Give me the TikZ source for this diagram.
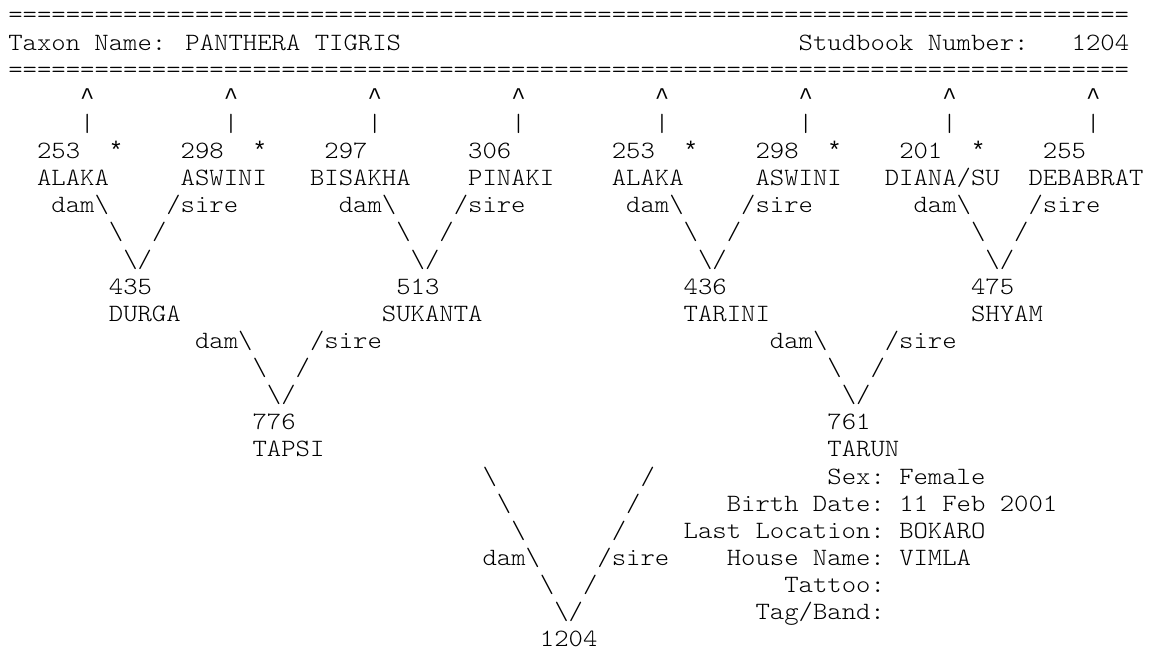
\documentclass[tikz,border=0pt]{standalone}
\usepackage{fontspec}
\newfontfamily\asciimono[FakeStretch=1.1]{Latin Modern Mono Light}
\newfontfamily\symmono{Liberation Mono}
\newcommand\pcw{14.37}
\newcommand\prh{27.13}
\newcommand\pxo{8.3}
\newcommand\pyo{22.9}
\newcommand\bs{\textbackslash}
\newcommand\pedtok[4]{\node[tok] (#1) at ({\pxo+(#2)*\pcw},{-(\pyo+(#3)*\prh)}) {#4};}
\newcommand\pedsym[4]{\node[symtok] (#1) at ({\pxo+(#2)*\pcw},{-(\pyo+(#3)*\prh)}) {#4};}
\begin{document}
\begin{tikzpicture}[x=1pt,y=1pt,
  tok/.style={anchor=base west,inner sep=0pt,outer sep=0pt,
    font=\asciimono\fontsize{24.88}{27}\selectfont,text=black},
  symtok/.style={tok,font=\symmono\fontsize{23.95}{27}\selectfont}]
\fill[white] (0,0) rectangle (1151,-651);
\useasboundingbox (0,0) rectangle (1151,-651);
% header
\pedtok{eqtop}{0}{0}{\foreach \i in {1,...,78}{=}}
\pedtok{taxon}{0}{1}{Taxon Name: PANTHERA TIGRIS}
\pedtok{sbl}{55}{1}{Studbook Number:}
\pedtok{sbn}{74}{1}{1204}
\pedtok{eqbot}{0}{2}{\foreach \i in {1,...,78}{=}}
% great-grandparents
\foreach \k in {0,...,7}{
  \pedsym{car\k}{5+10*\k}{3}{\textasciicircum}
  \pedtok{bar\k}{5+10*\k}{4}{|}
}
\foreach \c/\t [count=\i] in {2/253,12/298,22/297,32/306,42/253,52/298,62/201,72/255}{
  \pedtok{num\i}{\c}{5}{\t}
}
\foreach \c [count=\i] in {7,17,47,57,67}{
  \pedsym{star\i}{\c}{5}{*}
}
\pedtok{nmA}{2}{6}{ALAKA}
\pedtok{nmB}{12}{6}{ASWINI}
\pedtok{nmC}{21}{6}{BISAKHA}
\pedtok{nmD}{32}{6}{PINAKI}
\pedtok{nmE}{42}{6}{ALAKA}
\pedtok{nmF}{52}{6}{ASWINI}
\pedtok{nmG}{61}{6}{DIANA/SU}
\pedtok{nmH}{71}{6}{DEBABRAT}
% level 1 connectors
\foreach \b [count=\i] in {0,20,40,60}{
  \pedtok{damA\i}{\b+3}{7}{dam\bs}
  \pedtok{sireA\i}{\b+11}{7}{/sire}
  \pedtok{lbA\i}{\b+7}{8}{\bs}
  \pedtok{rsA\i}{\b+10}{8}{/}
  \pedtok{vA\i}{\b+8}{9}{\bs/}
}
\pedtok{g435}{7}{10}{435}
\pedtok{g513}{27}{10}{513}
\pedtok{g436}{47}{10}{436}
\pedtok{g475}{67}{10}{475}
\pedtok{gDURGA}{7}{11}{DURGA}
\pedtok{gSUKANTA}{26}{11}{SUKANTA}
\pedtok{gTARINI}{47}{11}{TARINI}
\pedtok{gSHYAM}{67}{11}{SHYAM}
% level 2 connectors
\foreach \b [count=\i] in {10,50}{
  \pedtok{damB\i}{\b+3}{12}{dam\bs}
  \pedtok{sireB\i}{\b+11}{12}{/sire}
  \pedtok{lbB\i}{\b+7}{13}{\bs}
  \pedtok{rsB\i}{\b+10}{13}{/}
  \pedtok{vB\i}{\b+8}{14}{\bs/}
}
\pedtok{p776}{17}{15}{776}
\pedtok{p761}{57}{15}{761}
\pedtok{pTAPSI}{17}{16}{TAPSI}
\pedtok{pTARUN}{57}{16}{TARUN}
% level 3 connectors
\pedtok{lbC1}{33}{17}{\bs}
\pedtok{rsC1}{44}{17}{/}
\pedtok{lbC2}{34}{18}{\bs}
\pedtok{rsC2}{43}{18}{/}
\pedtok{lbC3}{35}{19}{\bs}
\pedtok{rsC3}{42}{19}{/}
\pedtok{damC}{33}{20}{dam\bs}
\pedtok{sireC}{41}{20}{/sire}
\pedtok{lbC4}{37}{21}{\bs}
\pedtok{rsC4}{40}{21}{/}
\pedtok{vC}{38}{22}{\bs/}
\pedtok{self}{37}{23}{1204}
% details
\pedtok{kSex}{57}{17}{Sex:}
\pedtok{vSex}{62}{17}{Female}
\pedtok{kBirth}{50}{18}{Birth Date:}
\pedtok{vBirth}{62}{18}{11 Feb 2001}
\pedtok{kLoc}{47}{19}{Last Location:}
\pedtok{vLoc}{62}{19}{BOKARO}
\pedtok{kHouse}{50}{20}{House Name:}
\pedtok{vHouse}{62}{20}{VIMLA}
\pedtok{kTattoo}{54}{21}{Tattoo:}
\pedtok{kTag}{52}{22}{Tag/Band:}
\end{tikzpicture}
\end{document}
